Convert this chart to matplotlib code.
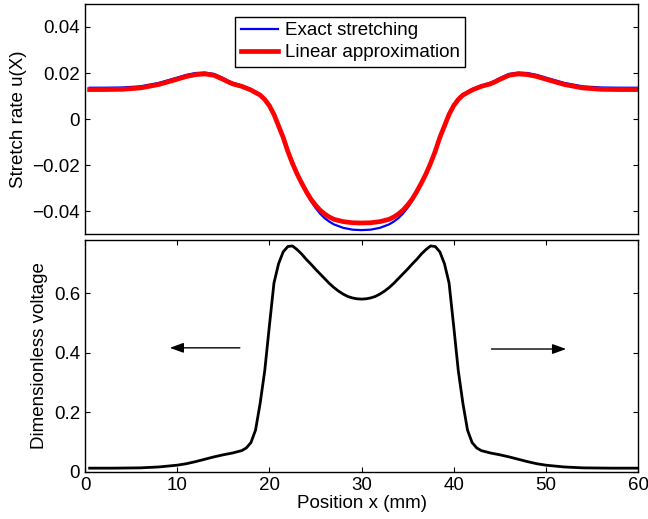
import matplotlib
matplotlib.use("Agg")
import matplotlib.pyplot as plt

plt.rcParams['font.family'] = ['Liberation Sans', 'DejaVu Sans']
plt.rcParams['font.size'] = 13.5

# Stretch rate along the channel (top panel)
pos_rate = [0.5, 2, 4, 6, 8, 10, 11, 12, 13, 14, 15, 15.5, 16, 17, 18, 19, 19.5,
            20, 20.5, 21, 21.5, 22, 22.5, 23, 23.5, 24, 24.5, 25, 25.5, 26, 26.5,
            27, 28, 29, 30,
            31, 32, 33, 33.5, 34, 34.5, 35, 35.5, 36, 36.5, 37, 37.5, 38, 38.5,
            39, 39.5, 40, 40.5, 41, 42, 43, 44, 44.5, 45, 46, 47, 48, 49, 50,
            52, 54, 56, 58, 60]
rate_exact = [0.0136, 0.0136, 0.0137, 0.0142, 0.0157, 0.0180, 0.0192, 0.0200,
              0.0202, 0.0196, 0.0178, 0.0167, 0.0158, 0.0146, 0.0130, 0.0107,
              0.0088, 0.0060, 0.0022, -0.0029, -0.0080, -0.0141, -0.0194,
              -0.0241, -0.0282, -0.0321, -0.0356, -0.0386, -0.0411, -0.0431,
              -0.0446, -0.0458, -0.0473, -0.0481, -0.0483,
              -0.0481, -0.0473, -0.0458, -0.0446, -0.0431, -0.0411, -0.0386,
              -0.0356, -0.0321, -0.0282, -0.0241, -0.0194, -0.0141, -0.0080,
              -0.0029, 0.0022, 0.0060, 0.0088, 0.0107, 0.0130, 0.0146, 0.0158,
              0.0167, 0.0178, 0.0196, 0.0202, 0.0200, 0.0192, 0.0180, 0.0157,
              0.0142, 0.0137, 0.0136, 0.0136]
rate_linear = [0.0128, 0.0128, 0.0129, 0.0135, 0.0150, 0.0173, 0.0185, 0.0193,
               0.0196, 0.0190, 0.0172, 0.0162, 0.0153, 0.0142, 0.0126, 0.0104,
               0.0085, 0.0058, 0.0020, -0.0030, -0.0080, -0.0140, -0.0192,
               -0.0238, -0.0278, -0.0315, -0.0348, -0.0374, -0.0396, -0.0413,
               -0.0426, -0.0436, -0.0446, -0.0451, -0.0452,
               -0.0451, -0.0446, -0.0436, -0.0426, -0.0413, -0.0396, -0.0374,
               -0.0348, -0.0315, -0.0278, -0.0238, -0.0192, -0.0140, -0.0080,
               -0.0030, 0.0020, 0.0058, 0.0085, 0.0104, 0.0126, 0.0142, 0.0153,
               0.0162, 0.0172, 0.0190, 0.0196, 0.0193, 0.0185, 0.0173, 0.0150,
               0.0135, 0.0129, 0.0128, 0.0128]

# Dimensionless voltage profile (bottom panel)
pos_volt = [0.5, 3, 6, 8, 10, 11, 12, 13, 14, 15, 16, 17, 17.5, 18, 18.5, 19,
            19.5, 20, 20.5, 21, 21.5, 22, 22.5, 23, 23.5, 24, 24.5, 25, 25.5,
            26, 26.5, 27, 27.5, 28, 28.5, 29, 29.5, 30,
            30.5, 31, 31.5, 32, 32.5, 33, 33.5, 34, 34.5, 35, 35.5, 36, 36.5,
            37, 37.5, 38, 38.5, 39, 39.5, 40, 40.5, 41, 41.5, 42, 42.5, 43,
            44, 45, 46, 47, 48, 49, 50, 52, 54, 57, 60]
voltage = [0.012, 0.012, 0.013, 0.016, 0.022, 0.027, 0.034, 0.042, 0.050,
           0.057, 0.063, 0.071, 0.080, 0.098, 0.140, 0.230, 0.340, 0.490,
           0.635, 0.700, 0.740, 0.758, 0.760, 0.748, 0.733, 0.715, 0.699,
           0.682, 0.666, 0.650, 0.634, 0.620, 0.608, 0.598, 0.590, 0.585,
           0.582, 0.581,
           0.582, 0.585, 0.590, 0.598, 0.608, 0.620, 0.634, 0.650, 0.666,
           0.682, 0.699, 0.715, 0.733, 0.748, 0.760, 0.758, 0.740, 0.700,
           0.635, 0.490, 0.340, 0.230, 0.140, 0.098, 0.080, 0.071, 0.063,
           0.057, 0.050, 0.042, 0.034, 0.027, 0.022, 0.016, 0.013, 0.012,
           0.012]

fig = plt.figure(figsize=(6.48, 5.19), dpi=100)
ax1 = fig.add_axes([0.1312, 0.5491, 0.8534, 0.4432])
ax2 = fig.add_axes([0.1312, 0.0911, 0.8534, 0.4465])

ax1.plot(pos_rate, rate_exact, color='#0000ff', lw=1.6, label='Exact stretching')
ax1.plot(pos_rate, rate_linear, color='#ff0000', lw=3.4, label='Linear approximation')
ax1.set_xlim(0, 60)
ax1.set_ylim(-0.05, 0.05)
ax1.set_yticks([-0.04, -0.02, 0, 0.02, 0.04])
ax1.set_yticklabels(['\u22120.04', '\u22120.02', '0', '0.02', '0.04'])
ax1.set_xticks([])
ax1.tick_params(axis='y', direction='in', length=3.5, left=True, right=True)
ax1.set_ylabel('Stretch rate u(X)')
leg = ax1.legend(loc='upper left', bbox_to_anchor=(0.271, 0.945), fancybox=False,
                 edgecolor='black', framealpha=1, handlelength=2.0,
                 handletextpad=0.35, labelspacing=0.25, borderaxespad=0,
                 borderpad=0.3)
leg.get_frame().set_linewidth(1.0)

ax2.plot(pos_volt, voltage, color='black', lw=2.0)
ax2.set_xlim(0, 60)
ax2.set_ylim(0, 0.78)
ax2.set_xticks([0, 10, 20, 30, 40, 50, 60])
ax2.set_yticks([0, 0.2, 0.4, 0.6])
ax2.set_yticklabels(['0', '0.2', '0.4', '0.6'])
ax2.tick_params(direction='in', length=3.5, left=True, right=True, top=True, bottom=True)
ax2.set_xlabel('Position x (mm)', labelpad=1)
ax2.set_ylabel('Dimensionless voltage')

# propagation direction arrows
arrow_style = dict(arrowstyle='-|>,head_length=0.55,head_width=0.2', color='black',
                   lw=1.0, mutation_scale=15, shrinkA=0, shrinkB=0)
ax2.annotate('', xy=(9.2, 0.417), xytext=(16.8, 0.417), arrowprops=arrow_style)
ax2.annotate('', xy=(52.2, 0.413), xytext=(44.1, 0.413), arrowprops=arrow_style)

for ax in (ax1, ax2):
    for spine in ax.spines.values():
        spine.set_linewidth(1.0)

fig.savefig('out.png', dpi=100)
